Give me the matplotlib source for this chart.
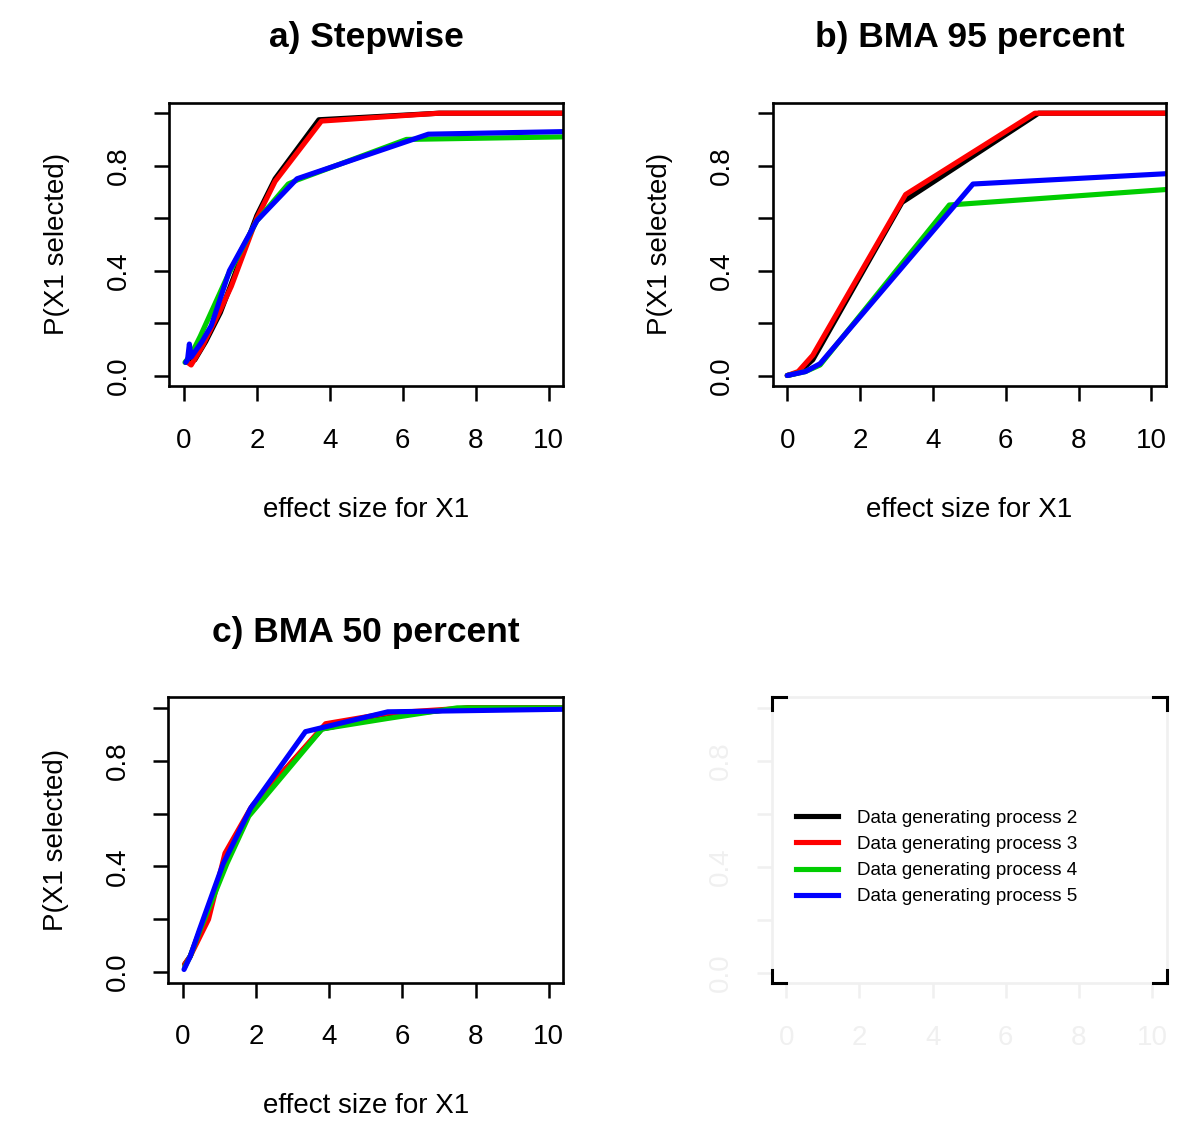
import matplotlib
matplotlib.use("Agg")
import matplotlib.pyplot as plt

plt.rcParams['font.family'] = ['Liberation Sans', 'DejaVu Sans']

# ---- data -------------------------------------------------------------
series_names = ["Data generating process 2", "Data generating process 3",
                "Data generating process 4", "Data generating process 5"]
series_colors = ["#000000", "#FF0000", "#00CD00", "#0000FF"]

# a) Stepwise
a_black_x = [0.1, 0.3, 0.6, 1.0, 1.3, 2.0, 2.5, 3.7, 7.0, 10.5]
a_black_y = [0.05, 0.06, 0.13, 0.24, 0.35, 0.61, 0.75, 0.975, 1.0, 1.0]
a_red_x = [0.1, 0.2, 0.5, 1.0, 1.3, 2.0, 2.5, 3.77, 7.0, 10.5]
a_red_y = [0.05, 0.04, 0.11, 0.25, 0.34, 0.60, 0.74, 0.97, 1.0, 1.0]
a_green_x = [0.03, 0.2, 0.45, 1.2, 2.0, 2.86, 3.1, 6.1, 10.5]
a_green_y = [0.05, 0.08, 0.15, 0.38, 0.59, 0.73, 0.745, 0.90, 0.91]
a_blue_x = [0.05, 0.1, 0.15, 0.2, 0.3, 0.5, 0.75, 1.25, 2.0, 3.1, 6.7, 10.5]
a_blue_y = [0.05, 0.06, 0.12, 0.07, 0.09, 0.13, 0.19, 0.40, 0.59, 0.75, 0.92, 0.93]

# b) BMA 95 percent
b_black_x = [0.0, 0.3, 0.7, 3.15, 6.9, 10.5]
b_black_y = [0.0, 0.01, 0.06, 0.66, 1.0, 1.0]
b_red_x = [0.0, 0.3, 0.7, 3.25, 6.8, 10.5]
b_red_y = [0.0, 0.015, 0.077, 0.69, 1.0, 1.0]
b_green_x = [0.0, 0.5, 0.9, 4.45, 10.5]
b_green_y = [0.0, 0.015, 0.04, 0.65, 0.71]
b_blue_x = [0.0, 0.5, 0.9, 5.1, 10.5]
b_blue_y = [0.0, 0.015, 0.045, 0.73, 0.77]

# c) BMA 50 percent
c_black_x = [0.05, 0.2, 0.5, 1.2, 1.9, 3.8, 5.6, 7.8, 10.5]
c_black_y = [0.03, 0.06, 0.17, 0.43, 0.63, 0.92, 0.97, 1.0, 1.0]
c_red_x = [0.05, 0.2, 0.7, 1.15, 1.85, 3.9, 5.6, 7.8, 10.5]
c_red_y = [0.03, 0.06, 0.20, 0.45, 0.62, 0.94, 0.98, 1.0, 1.0]
c_green_x = [0.05, 0.2, 0.5, 1.2, 1.8, 3.8, 5.6, 7.5, 10.5]
c_green_y = [0.02, 0.06, 0.17, 0.41, 0.59, 0.92, 0.96, 1.0, 1.0]
c_blue_x = [0.03, 0.2, 0.45, 1.1, 1.85, 3.35, 5.6, 10.5]
c_blue_y = [0.01, 0.06, 0.16, 0.41, 0.62, 0.91, 0.985, 0.995]

panel_titles = ["a) Stepwise", "b) BMA 95 percent", "c) BMA 50 percent"]
x_ticks = [0, 2, 4, 6, 8, 10]
y_ticks = [0.0, 0.2, 0.4, 0.6, 0.8, 1.0]
y_ticklabels = ["0.0", "", "0.4", "", "0.8", ""]

panels = [
    [(a_black_x, a_black_y), (a_red_x, a_red_y), (a_green_x, a_green_y), (a_blue_x, a_blue_y)],
    [(b_black_x, b_black_y), (b_red_x, b_red_y), (b_green_x, b_green_y), (b_blue_x, b_blue_y)],
    [(c_black_x, c_black_y), (c_red_x, c_red_y), (c_green_x, c_green_y), (c_blue_x, c_blue_y)],
]

W, H = 1200, 1141
fig = plt.figure(figsize=(W / 100, H / 100), dpi=100)

def box(l, r, t, b):
    return [l / W, 1 - b / H, (r - l) / W, (b - t) / H]

rects = [box(169.3, 563.3, 102.7, 386), box(772.7, 1166, 102.7, 386),
         box(168.3, 563.3, 697.3, 982.7), box(771.7, 1166.7, 697.3, 983.3)]

def style_axis(ax, col="black"):
    ax.set_xlim(-0.4, 10.4)
    ax.set_ylim(-0.04, 1.04)
    ax.set_xticks(x_ticks)
    ax.set_xticklabels([str(t) for t in x_ticks])
    ax.set_yticks(y_ticks)
    ax.set_yticklabels(y_ticklabels, rotation=90, va="center")
    ax.tick_params(direction="out", length=11, width=1.8, labelsize=20,
                   color=col, labelcolor=col)
    ax.tick_params(axis="x", pad=19)
    ax.tick_params(axis="y", pad=16)
    for s in ax.spines.values():
        s.set_linewidth(1.9)
        s.set_color(col)

for i in range(3):
    ax = fig.add_axes(rects[i])
    for (xs, ys), c in zip(panels[i], series_colors):
        ax.plot(xs, ys, color=c, lw=3.7, solid_joinstyle="round", solid_capstyle="round")
    style_axis(ax)
    ax.set_title(panel_titles[i], fontsize=25.5, fontweight="bold", pad=40)
    ax.set_xlabel("effect size for X1", fontsize=20, labelpad=31)
    ax.set_ylabel("P(X1 selected)", fontsize=20, labelpad=26)

# empty legend panel, axes drawn almost white
ax = fig.add_axes(rects[3])
style_axis(ax, col="#f0f0f0")
for xs, ys in [([0, 0.035], [1, 1]), ([0, 0], [1, 0.955]),
               ([0.965, 1], [1, 1]), ([1, 1], [1, 0.955]),
               ([0, 0.035], [0, 0]), ([0, 0], [0, 0.045]),
               ([0.965, 1], [0, 0]), ([1, 1], [0, 0.045])]:
    ax.plot(xs, ys, color="black", lw=2.2, transform=ax.transAxes,
            clip_on=False, zorder=5)
handles = [plt.Line2D([], [], color=c, lw=3.7) for c in series_colors]
ax.legend(handles, series_names, loc="center left", bbox_to_anchor=(-0.005, 0.44),
          frameon=False, fontsize=13.6, handlelength=2.2, handletextpad=1.0,
          labelspacing=0.47, borderaxespad=1.0)

fig.savefig("out.png", dpi=100)
